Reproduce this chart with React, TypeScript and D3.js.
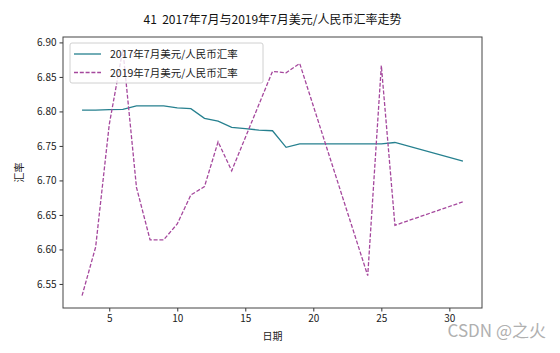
import React, { useEffect, useRef } from "react";
import * as d3 from "d3";

// 2017年7月 (solid line)
const days2017 = [3, 4, 5, 6, 7, 8, 9, 10, 11, 12, 13, 14, 15, 16, 17, 18, 19, 25, 26, 31];
const rates2017 = [6.802, 6.802, 6.8025, 6.803, 6.808, 6.808, 6.808, 6.805, 6.804, 6.79, 6.786, 6.777, 6.775, 6.773, 6.772, 6.748, 6.753, 6.753, 6.755, 6.728];

// 2019年7月 (dashed line)
const days2019 = [3, 4, 5, 6, 7, 8, 9, 10, 11, 12, 13, 14, 17, 18, 19, 24, 25, 26, 31];
const rates2019 = [6.533, 6.6035, 6.781, 6.89, 6.69, 6.614, 6.614, 6.637, 6.679, 6.691, 6.756, 6.714, 6.858, 6.856, 6.8695, 6.562, 6.8666, 6.635, 6.669];

const seriesNames = ["2017年7月美元/人民币汇率", "2019年7月美元/人民币汇率"];
const xTickValues = [5, 10, 15, 20, 25, 30];

const FONT = "'Noto Sans CJK SC', 'DejaVu Sans', sans-serif";

function App() {
  const ref = useRef<SVGSVGElement>(null);

  useEffect(() => {
    drawChart();
  }, []);

  const drawChart = () => {
    const root = d3.select(ref.current);
    root.selectAll("*").remove();

    const left = 63, right = 482, top = 37, bottom = 308;

    // matplotlib style 5% margins
    const allDays = days2017.concat(days2019);
    const allRates = rates2017.concat(rates2019);
    const [dMin, dMax] = d3.extent(allDays) as [number, number];
    const [rMin, rMax] = d3.extent(allRates) as [number, number];
    const dPad = (dMax - dMin) * 0.05;
    const rPad = (rMax - rMin) * 0.05;

    const x = d3.scaleLinear().domain([dMin - dPad, dMax + dPad]).range([left, right]);
    const y = d3.scaleLinear().domain([rMin - rPad, rMax + rPad]).range([bottom, top]);

    // title (keeps the double space)
    root.append("text")
      .attr("x", (left + right) / 2)
      .attr("y", 24)
      .attr("text-anchor", "middle")
      .style("font-family", FONT)
      .style("font-size", "12px")
      .style("white-space", "pre")
      .attr("fill", "#111")
      .text("41  2017年7月与2019年7月美元/人民币汇率走势");

    // axes
    const xAxis = root.append("g")
      .attr("transform", `translate(0,${bottom})`)
      .call(d3.axisBottom(x).tickValues(xTickValues).tickSize(3.5).tickPadding(3));
    const yAxis = root.append("g")
      .attr("transform", `translate(${left},0)`)
      .call(d3.axisLeft(y).ticks(8).tickFormat(d3.format(".2f")).tickSize(3.5).tickPadding(3));

    [xAxis, yAxis].forEach(g => {
      g.select(".domain").remove();
      g.selectAll("line").attr("stroke", "#333");
      g.selectAll("text")
        .style("font-family", FONT)
        .style("font-size", "10px")
        .attr("fill", "#222");
    });

    // axis labels
    root.append("text")
      .attr("x", (left + right) / 2)
      .attr("y", 340)
      .attr("text-anchor", "middle")
      .style("font-family", FONT)
      .style("font-size", "10px")
      .attr("fill", "#222")
      .text("日期");
    root.append("text")
      .attr("transform", `translate(23,${(top + bottom) / 2}) rotate(-90)`)
      .attr("text-anchor", "middle")
      .style("font-family", FONT)
      .style("font-size", "10px")
      .attr("fill", "#222")
      .text("汇率");

    const line = d3.line<[number, number]>()
      .x(d => x(d[0]))
      .y(d => y(d[1]));

    root.append("path")
      .datum(days2017.map((d, i) => [d, rates2017[i]] as [number, number]))
      .attr("d", line)
      .attr("fill", "none")
      .attr("stroke", "#26808f")
      .attr("stroke-width", 1.3);

    root.append("path")
      .datum(days2019.map((d, i) => [d, rates2019[i]] as [number, number]))
      .attr("d", line)
      .attr("fill", "none")
      .attr("stroke", "#a5489d")
      .attr("stroke-width", 1.3)
      .attr("stroke-dasharray", "4,1.8");

    // frame
    root.append("rect")
      .attr("x", left)
      .attr("y", top)
      .attr("width", right - left)
      .attr("height", bottom - top)
      .attr("fill", "none")
      .attr("stroke", "#444")
      .attr("stroke-width", 1);

    // legend
    const lg = root.append("g").attr("transform", "translate(70,43)");
    lg.append("rect")
      .attr("width", 193)
      .attr("height", 40)
      .attr("rx", 2)
      .attr("fill", "white")
      .attr("fill-opacity", 0.8)
      .attr("stroke", "#d0d0d0");
    const styles = [
      { color: "#26808f", dash: null },
      { color: "#a5489d", dash: "4,1.8" }
    ];
    seriesNames.forEach((name, i) => {
      const yy = 11 + i * 18.5;
      lg.append("line")
        .attr("x1", 4).attr("x2", 31)
        .attr("y1", yy).attr("y2", yy)
        .attr("stroke", styles[i].color)
        .attr("stroke-width", 1.3)
        .attr("stroke-dasharray", styles[i].dash);
      lg.append("text")
        .attr("x", 40)
        .attr("y", yy + 4)
        .style("font-family", FONT)
        .style("font-size", "10.5px")
        .attr("fill", "#222")
        .text(name);
    });

    // watermark
    root.append("text")
      .attr("x", 546)
      .attr("y", 337)
      .attr("text-anchor", "end")
      .style("font-family", FONT)
      .style("font-size", "17px")
      .attr("fill", "#b0b0b0")
      .text("CSDN @之火");
  };

  return (
    <svg
      ref={ref}
      width={560}
      height={353}
      style={{ position: "absolute", left: 0, top: 0, background: "white" }}
    />
  );
}

export default App;
